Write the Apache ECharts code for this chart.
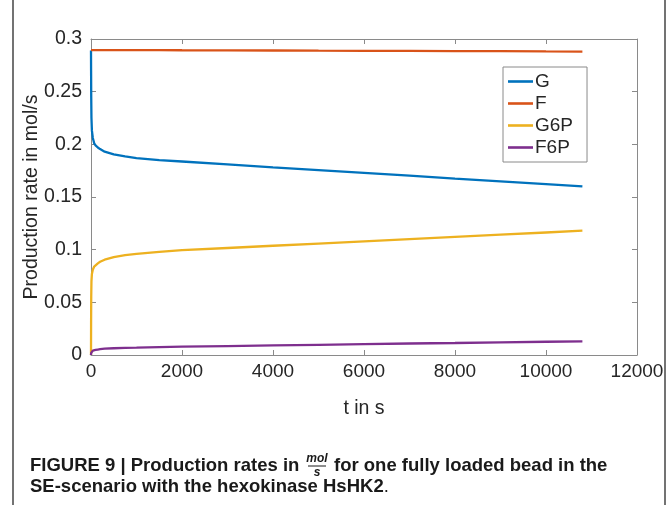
<!DOCTYPE html>
<html>
<head>
<meta charset="utf-8">
<script src="https://cdn.jsdelivr.net/npm/echarts@6/dist/echarts.min.js"></script>
<style>
html,body{margin:0;padding:0;background:#fff;}
#chart{width:669px;height:505px;}
</style>
</head>
<body>
<div id="chart"></div>
<script>
// ---- data ----
const seriesNames = ['G', 'F', 'G6P', 'F6P'];
const times = [0, 2, 5, 10, 20, 40, 70, 100, 150, 200, 300, 500, 750, 1000, 1500, 2000, 3000, 4000, 5000, 6000, 7000, 8000, 9000, 10000, 10800];
const gValues = [0.289, 0.270, 0.245, 0.225, 0.213, 0.206, 0.201, 0.199, 0.197, 0.1955, 0.193, 0.1905, 0.1885, 0.187, 0.185, 0.1837, 0.181, 0.1782, 0.1756, 0.1729, 0.1702, 0.1675, 0.1649, 0.1622, 0.160];
const fValues = [0.2895, 0.2895, 0.2895, 0.2895, 0.2895, 0.2895, 0.2895, 0.2895, 0.2895, 0.2895, 0.2895, 0.2895, 0.2894, 0.2894, 0.2894, 0.2893, 0.2892, 0.2891, 0.2889, 0.2888, 0.2887, 0.2885, 0.2884, 0.2882, 0.2881];
const g6pValues = [0, 0.030, 0.055, 0.070, 0.077, 0.081, 0.084, 0.0855, 0.087, 0.0885, 0.0905, 0.093, 0.0948, 0.096, 0.098, 0.0995, 0.1016, 0.1037, 0.1058, 0.1079, 0.110, 0.1121, 0.1142, 0.1163, 0.118];
const f6pValues = [0, 0.001, 0.002, 0.003, 0.0037, 0.0042, 0.0046, 0.0049, 0.0052, 0.0055, 0.006, 0.0064, 0.0068, 0.007, 0.0075, 0.0079, 0.0085, 0.0091, 0.0097, 0.0103, 0.0109, 0.0114, 0.012, 0.0126, 0.013];
const xTicks = [0, 2000, 4000, 6000, 8000, 10000, 12000];
const yTicks = [0, 0.05, 0.1, 0.15, 0.2, 0.25, 0.3];
const xLabel = 't in s';
const yLabel = 'Production rate in mol/s';

// ---- style ----
const colors = ['#0072BD', '#D95319', '#EDB120', '#7E2F8E'];
const valueSets = [gValues, fValues, g6pValues, f6pValues];
const axisGray = '#8a8a8a';
const textColor = '#262626';
const font = '"Liberation Sans", Arial, Helvetica, sans-serif';

const chart = echarts.init(document.getElementById('chart'), null, {renderer: 'canvas'});

const series = seriesNames.map((name, i) => ({
  name: name,
  type: 'line',
  xAxisIndex: 0,
  yAxisIndex: 0,
  showSymbol: false,
  symbol: 'none',
  smooth: false,
  lineStyle: {color: colors[i], width: 2.3},
  itemStyle: {color: colors[i]},
  data: times.map((t, k) => [t, valueSets[i][k]])
}));

const tickCommon = {show: true, inside: true, length: 5, lineStyle: {color: axisGray, width: 1}};
const lineCommon = {show: true, onZero: false, lineStyle: {color: axisGray, width: 1}};

const option = {
  backgroundColor: '#fff',
  animation: false,
  textStyle: {fontFamily: font},
  grid: {left: 91, right: 32, top: 39, bottom: 150, containLabel: false},
  xAxis: [{
    type: 'value', position: 'bottom',
    min: xTicks[0], max: xTicks[xTicks.length - 1], interval: xTicks[1] - xTicks[0],
    name: xLabel, nameLocation: 'middle', nameGap: 44, nameMoveOverlap: false,
    nameTextStyle: {fontSize: 19.5, color: textColor, fontFamily: font},
    axisLine: lineCommon, axisTick: tickCommon, splitLine: {show: false},
    axisLabel: {fontSize: 19, color: textColor, margin: 7, fontFamily: font,
      formatter: v => String(v)}
  }, {
    type: 'value', position: 'top',
    min: xTicks[0], max: xTicks[xTicks.length - 1], interval: xTicks[1] - xTicks[0],
    axisLine: lineCommon, axisTick: tickCommon, splitLine: {show: false},
    axisLabel: {show: false}
  }],
  yAxis: [{
    type: 'value', position: 'left',
    min: yTicks[0], max: yTicks[yTicks.length - 1], interval: 0.05,
    name: yLabel, nameLocation: 'middle', nameGap: 49, nameMoveOverlap: false,
    nameTextStyle: {fontSize: 19.5, color: textColor, fontFamily: font},
    axisLine: lineCommon, axisTick: tickCommon, splitLine: {show: false},
    axisLabel: {fontSize: 19.5, color: textColor, margin: 9, fontFamily: font,
      formatter: v => String(Math.round(v * 100) / 100)}
  }, {
    type: 'value', position: 'right',
    min: yTicks[0], max: yTicks[yTicks.length - 1], interval: 0.05,
    axisLine: lineCommon, axisTick: tickCommon, splitLine: {show: false},
    axisLabel: {show: false}
  }],
  legend: {
    show: true,
    orient: 'vertical',
    left: 503, top: 67,
    padding: [4.5, 14, 4.5, 5],
    itemGap: 2,
    itemWidth: 25,
    itemHeight: 2.6,
    icon: 'rect',
    backgroundColor: '#fff',
    borderColor: axisGray,
    borderWidth: 1,
    borderRadius: 0,
    textStyle: {fontSize: 19, color: textColor, lineHeight: 20, fontFamily: font, padding: [0, 0, 0, -3]},
    data: seriesNames
  },
  series: series,
  graphic: [
    {type: 'line', shape: {x1: 13, y1: 0, x2: 13, y2: 505}, style: {stroke: '#444', lineWidth: 1.5}, silent: true},
    {type: 'line', shape: {x1: 665, y1: 0, x2: 665, y2: 505}, style: {stroke: '#444', lineWidth: 1.5}, silent: true},
    {type: 'text', left: 30, top: 456, style: {text: 'FIGURE 9 | Production rates in', fontSize: 18.5, fontWeight: 'bold', fill: '#1a1a1a', fontFamily: font}},
    {type: 'text', x: 317, y: 465, style: {text: 'mol', fontSize: 12, fontStyle: 'italic', fontWeight: 'bold', fill: '#1a1a1a', fontFamily: font, align: 'center', verticalAlign: 'bottom'}},
    {type: 'line', shape: {x1: 308, y1: 466, x2: 326, y2: 466}, style: {stroke: '#1a1a1a', lineWidth: 1}},
    {type: 'text', x: 317, y: 467, style: {text: 's', fontSize: 12, fontStyle: 'italic', fontWeight: 'bold', fill: '#1a1a1a', fontFamily: font, align: 'center', verticalAlign: 'top'}},
    {type: 'text', left: 334, top: 456, style: {text: 'for one fully loaded bead in the', fontSize: 18.5, fontWeight: 'bold', fill: '#1a1a1a', fontFamily: font}},
    {type: 'text', left: 30, top: 477, style: {rich: {b: {fontSize: 18.5, fontWeight: 'bold', fill: '#1a1a1a', fontFamily: font}, n: {fontSize: 18.5, fill: '#1a1a1a', fontFamily: font}}, text: '{b|SE-scenario with the hexokinase HsHK2}{n|.}'}}
  ]
};

chart.setOption(option);
</script>
</body>
</html>
